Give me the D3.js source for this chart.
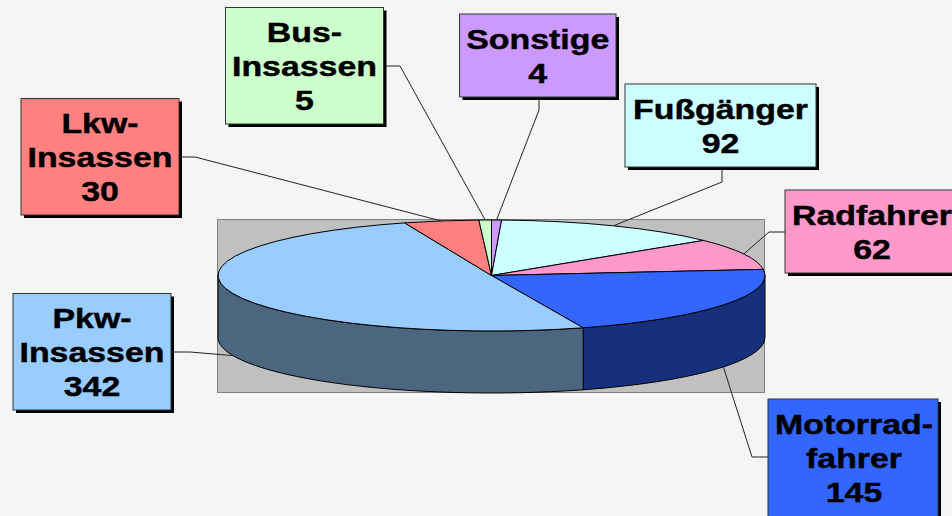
<!DOCTYPE html>
<html>
<head>
<meta charset="utf-8">
<script src="https://d3js.org/d3.v7.min.js"></script>
<style>
html, body { margin: 0; padding: 0; background: #f5f5f5; overflow: hidden; }
text { font-family: "Liberation Sans", Arial, sans-serif; font-weight: bold; fill: #000; stroke: #000; stroke-width: 0.45; }
</style>
</head>
<body>
<div id="chart"></div>
<script>
// values, clockwise from 12 o'clock
var categories = ["Sonstige", "Fußgänger", "Radfahrer", "Motorradfahrer", "Pkw-Insassen", "Lkw-Insassen", "Bus-Insassen"];
var values = [4, 92, 62, 145, 342, 30, 5];
var label_lines = [["Sonstige"], ["Fußgänger"], ["Radfahrer"], ["Motorrad-", "fahrer"], ["Pkw-", "Insassen"], ["Lkw-", "Insassen"], ["Bus-", "Insassen"]];

var top_colors = ["#cc99ff", "#ccffff", "#ff99cc", "#3366ff", "#99ccff", "#ff8080", "#ccffcc"];
var side_colors = ["#7a5c99", "#7a9999", "#995c7a", "#16307d", "#4d6680", "#994d4d", "#7a997a"];

// label box layout: x, y, w, h, elbow of leader [from, elbow]
var boxes = [
    { x: 459.5, y: 14, w: 156.5, h: 83, from: [539, 97], elbow: [539, 110] },
    { x: 625, y: 84, w: 191, h: 83, from: [722, 167], elbow: [722, 182] },
    { x: 785, y: 190, w: 180, h: 83, from: [785, 232], elbow: [769, 232] },
    { x: 768, y: 399, w: 170, h: 130, from: [768, 457], elbow: [752, 457] },
    { x: 13, y: 293.5, w: 158, h: 116.5, from: [174, 352], elbow: [190, 352] },
    { x: 21, y: 98.5, w: 158, h: 116.5, from: [182, 157], elbow: [195, 157] },
    { x: 225.5, y: 7.5, w: 158, h: 116.5, from: [386, 66], elbow: [400, 66] }
];

var svg_width = 952, svg_height = 516;
var cx = 491.5, cy = 275.5, rx = 273.5, ry = 55.5, depth = 62;
var font_size = 28, x_stretch = 1.21, line_height = 34;

var svg = d3.select("#chart").append("svg")
    .attr("width", svg_width)
    .attr("height", svg_height);

// grey plot area
svg.append("rect")
    .attr("x", 217.5).attr("y", 219.5)
    .attr("width", 547).attr("height", 173)
    .attr("fill", "#c0c0c0")
    .attr("stroke", "#808080");

var pie = d3.pie().sort(null)(values);

function pt(angle, dy) {
    return [cx + rx * Math.sin(angle), cy - ry * Math.cos(angle) + (dy || 0)];
}

// side walls, only the front half of the ellipse shows
var g_side = svg.append("g");
pie.forEach(function(d, i) {
    var a0 = Math.max(d.startAngle, Math.PI / 2);
    var a1 = Math.min(d.endAngle, Math.PI * 1.5);
    if (a1 <= a0) return;
    var p0 = pt(a0), p1 = pt(a1), q0 = pt(a0, depth), q1 = pt(a1, depth);
    var large = a1 - a0 > Math.PI ? 1 : 0;
    var path = "M" + p0 + "A" + rx + "," + ry + " 0 " + large + " 1 " + p1 +
        "L" + q1 + "A" + rx + "," + ry + " 0 " + large + " 0 " + q0 + "Z";
    g_side.append("path")
        .attr("d", path)
        .attr("fill", side_colors[i])
        .attr("stroke", "#000")
        .attr("stroke-width", 1);
});

// top of the pie
var arc = d3.arc().innerRadius(0).outerRadius(rx);
svg.append("g")
    .attr("transform", "translate(" + cx + "," + cy + ") scale(1," + (ry / rx) + ")")
    .selectAll("path")
    .data(pie)
    .join("path")
        .attr("d", arc)
        .attr("fill", (d, i) => top_colors[i])
        .attr("stroke", "#000")
        .attr("stroke-width", 1)
        .style("vector-effect", "non-scaling-stroke");

// leader lines end at the middle of each slice
var line = d3.line();
pie.forEach(function(d, i) {
    var mid = (d.startAngle + d.endAngle) / 2;
    var front = mid > Math.PI / 2 && mid < Math.PI * 1.5;
    svg.append("path")
        .attr("d", line([boxes[i].from, boxes[i].elbow, pt(mid, front ? depth : 0)]))
        .attr("fill", "none")
        .attr("stroke", "#222")
        .attr("stroke-width", 1);
});

// label boxes
categories.forEach(function(name, i) {
    var b = boxes[i];
    var g = svg.append("g");
    g.append("rect")
        .attr("x", b.x + 3).attr("y", b.y + 3)
        .attr("width", b.w).attr("height", b.h)
        .attr("fill", "#000");
    g.append("rect")
        .attr("x", b.x).attr("y", b.y)
        .attr("width", b.w).attr("height", b.h)
        .attr("fill", top_colors[i])
        .attr("stroke", "#333")
        .attr("stroke-width", 1);

    var rows = label_lines[i].concat([String(values[i])]);
    var text_cx = b.x + b.w / 2;
    if (i == 2) text_cx = 872;  // box runs off the page
    if (i == 3) text_cx = 854;
    rows.forEach(function(row, j) {
        g.append("text")
            .attr("transform", "translate(" + text_cx + "," + (b.y + 34.5 + j * line_height) + ") scale(" + x_stretch + ",1)")
            .attr("text-anchor", "middle")
            .attr("font-size", font_size)
            .text(row);
    });
});
</script>
</body>
</html>
